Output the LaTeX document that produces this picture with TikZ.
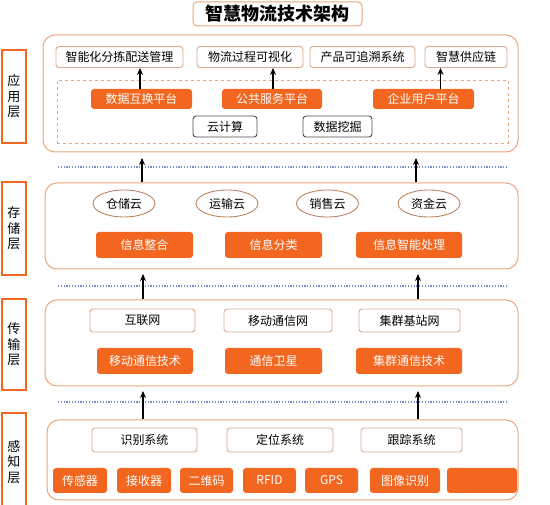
\documentclass[tikz,border=0pt]{standalone}
\usepackage{fontspec}
\usepackage{tikz}
\usetikzlibrary{shapes.geometric,arrows.meta}
\setmainfont{Noto Sans CJK SC}
\definecolor{dark_orange}{HTML}{F2661F}
\definecolor{light_orange}{HTML}{EBA67C}
\definecolor{box_border}{HTML}{D9AA8C}
\definecolor{dot_blue}{HTML}{6F8FCB}

\begin{document}
\begin{tikzpicture}[x=1pt,y=-1pt,
        font=\fontsize{12}{14}\selectfont,
        panel/.style={draw=light_orange, line width=1pt, rounded corners=12pt, inner sep=0pt},
        layer/.style={draw=dark_orange, line width=2pt, fill=white, minimum width=24pt, inner sep=0pt, align=center, font=\fontsize{13}{15.5}\selectfont},
        wbox/.style={draw=box_border, line width=0.9pt, fill=white, rounded corners=3pt, minimum height=21pt, inner sep=0pt},
        obox/.style={fill=dark_orange, text=white, rounded corners=3pt, minimum height=25pt, inner sep=0pt},
        gbox/.style={draw=black!70, line width=0.9pt, fill=white, rounded corners=3pt, minimum height=21pt, inner sep=0pt},
        cloud/.style={ellipse, draw=light_orange!80!black, line width=0.9pt, minimum width=62pt, minimum height=27pt, inner sep=0pt},
        arr/.style={-{Stealth[length=7pt,width=6pt]}, line width=1.6pt},
        dotline/.style={dot_blue, line width=2pt, dash pattern=on 1.2pt off 1.6pt}]
        \useasboundingbox (0,0) rectangle (550,505);
        % Titre
        \node[draw=light_orange, line width=1pt, rounded corners=4pt, minimum width=169pt, minimum height=24pt, font=\fontsize{18}{20}\selectfont\bfseries] (titre) at (277.5,14) {智慧物流技术架构};
        % Couches (gauche)
        \node[layer, minimum height=93pt] (l1) at (14,96.5) {应\\用\\层};
        \node[layer, minimum height=93pt] (l2) at (14,228.5) {存\\储\\层};
        \node[layer, minimum height=91pt] (l3) at (14,344.5) {传\\输\\层};
        \node[layer, minimum height=98pt] (l4) at (14,462) {感\\知\\层};
        % Cadres
        \node[panel, minimum width=475pt, minimum height=117pt] (p1) at (280.5,93.5) {};
        \node[panel, minimum width=473pt, minimum height=86pt] (p2) at (281.5,226) {};
        \node[panel, minimum width=473pt, minimum height=86pt] (p3) at (281.5,343) {};
        \node[panel, minimum width=471pt, minimum height=80pt] (p4) at (282.5,460) {};
        % Lignes pointillées
        \draw[dotline] (58,167) -- (507,167);
        \draw[dotline] (58,286) -- (507,286);
        \draw[dotline] (58,402) -- (507,402);
        % Couche application
        \node[wbox, minimum width=127pt] (n1) at (119.5,57) {智能化分拣配送管理};
        \node[wbox, minimum width=106pt] (n2) at (250,57) {物流过程可视化};
        \node[wbox, minimum width=105pt] (n3) at (362.5,57) {产品可追溯系统};
        \node[wbox, minimum width=82pt] (n4) at (466,57) {智慧供应链};
        \node[draw=light_orange, dashed, line width=0.8pt, minimum width=451pt, minimum height=63pt] (zone) at (282.5,111.5) {};
        \node[obox, minimum width=101pt, minimum height=20pt] (o1) at (141.5,99) {数据互换平台};
        \node[obox, minimum width=100pt, minimum height=20pt] (o2) at (272,99) {公共服务平台};
        \node[obox, minimum width=101pt, minimum height=20pt] (o3) at (423.5,99) {企业用户平台};
        \node[gbox, minimum width=64pt] (g1) at (225,126.5) {云计算};
        \node[gbox, minimum width=69pt] (g2) at (337.5,126.5) {数据挖掘};
        \draw[arr] ([xshift=-1.5pt]o1.north) -- ([xshift=-1.5pt]o1.north |- n1.south);
        \draw[arr] ([xshift=1pt]o2.north) -- ([xshift=1pt]o2.north |- n2.south);
        \draw[arr] ([xshift=17pt]o3.north) -- ([xshift=17pt]o3.north |- n4.south);
        % Couche stockage
        \node[cloud] (e1) at (124,203.5) {仓储云};
        \node[cloud] (e2) at (227,203.5) {运输云};
        \node[cloud] (e3) at (327.5,203.5) {销售云};
        \node[cloud] (e4) at (429,203.5) {资金云};
        \node[obox, minimum width=97pt, minimum height=26pt] (i1) at (144.5,245) {信息整合};
        \node[obox, minimum width=97pt, minimum height=26pt] (i2) at (273.5,245) {信息分类};
        \node[obox, minimum width=106pt, minimum height=26pt] (i3) at (409,245) {信息智能处理};
        % Couche transmission
        \node[wbox, minimum width=105pt, minimum height=23pt] (t1) at (142.5,320.5) {互联网};
        \node[wbox, minimum width=108pt, minimum height=23pt] (t2) at (278,320.5) {移动通信网};
        \node[wbox, minimum width=101pt, minimum height=23pt] (t3) at (409.5,320.5) {集群基站网};
        \node[obox, minimum width=96pt, minimum height=26pt] (m1) at (145,361) {移动通信技术};
        \node[obox, minimum width=97pt, minimum height=26pt] (m2) at (273.5,361) {通信卫星};
        \node[obox, minimum width=106pt, minimum height=26pt] (m3) at (409,361) {集群通信技术};
        % Couche perception
        \node[wbox, minimum width=105pt, minimum height=24pt] (s1) at (144.5,440) {识别系统};
        \node[wbox, minimum width=106pt, minimum height=24pt] (s2) at (280,440) {定位系统};
        \node[wbox, minimum width=101pt, minimum height=24pt] (s3) at (411.5,440) {跟踪系统};
        \node[obox, minimum width=54pt] (d1) at (80,480.5) {传感器};
        \node[obox, minimum width=54pt] (d2) at (144,480.5) {接收器};
        \node[obox, minimum width=53pt] (d3) at (206.5,480.5) {二维码};
        \node[obox, minimum width=53pt] (d4) at (269.5,480.5) {RFID};
        \node[obox, minimum width=53pt] (d5) at (331.5,480.5) {GPS};
        \node[obox, minimum width=70pt] (d6) at (405,480.5) {图像识别};
        \node[obox, minimum width=70pt] (d7) at (482,480.5) {};
        % Flèches entre couches
        \coordinate (a1) at (142,158);
        \coordinate (a2) at (416,158);
        \coordinate (b1) at (143,274);
        \coordinate (b2) at (418,274);
        \coordinate (c1) at (143,391);
        \coordinate (c2) at (418,391);
        \draw[arr] (p2.north -| a1) -- (a1);
        \draw[arr] (p2.north -| a2) -- (a2);
        \draw[arr] (p3.north -| b1) -- (b1);
        \draw[arr] (p3.north -| b2) -- (b2);
        \draw[arr] (p4.north -| c1) -- (c1);
        \draw[arr] (p4.north -| c2) -- (c2);
    \end{tikzpicture}
\end{document}
